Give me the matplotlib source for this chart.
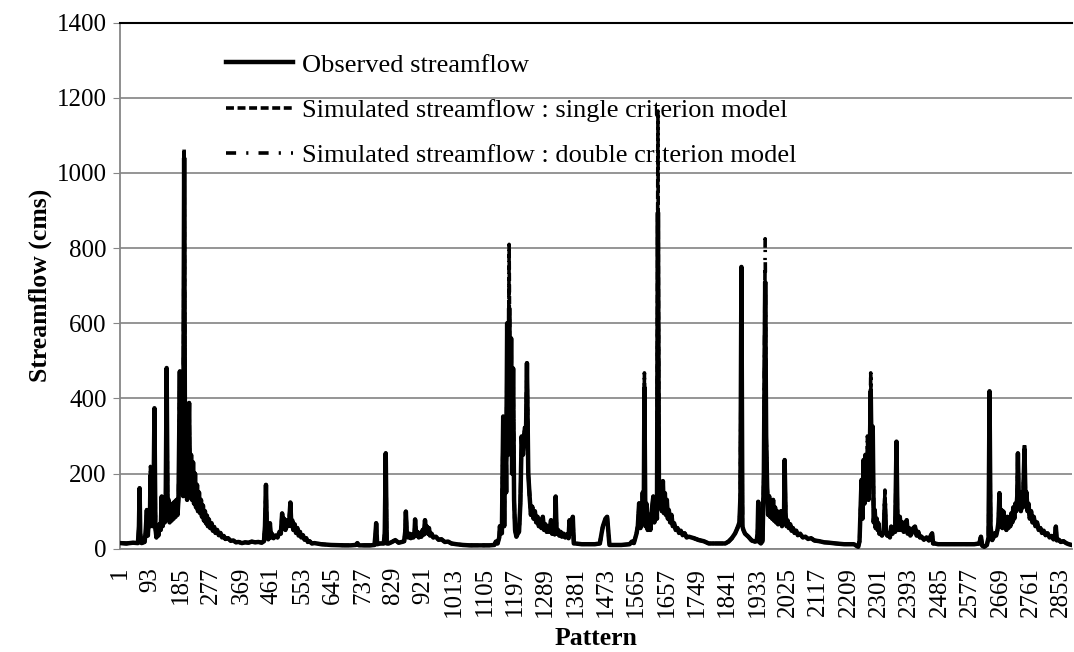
import numpy as np
import matplotlib
matplotlib.use('Agg')
import matplotlib.pyplot as plt

plt.rcParams['font.family'] = ['Liberation Serif', 'DejaVu Serif']

# observed streamflow (pattern, cms), one list per wet season
season_1 = [(1, 15), (20, 14), (40, 16), (55, 15), (58, 60), (60, 161), (62, 40), (66, 15),
            (75, 18), (78, 40), (82, 103), (85, 35), (88, 80), (91, 60), (93, 196), (96, 100),
            (99, 60), (102, 110), (105, 374), (108, 55), (111, 30), (114, 60), (117, 35),
            (120, 65), (124, 50), (127, 139), (130, 60), (133, 90), (136, 70), (139, 110),
            (142, 481), (145, 90), (148, 130), (151, 70), (154, 115), (157, 75), (160, 120),
            (163, 80), (166, 125), (169, 85), (172, 130), (175, 90), (178, 135), (182, 472),
            (185, 160), (188, 260), (192, 140), (195, 1040), (198, 150), (201, 250), (204, 130),
            (207, 260), (210, 388), (213, 140), (216, 250), (219, 130), (222, 230), (225, 120),
            (228, 200), (231, 110), (234, 170), (237, 100), (240, 150), (243, 95), (246, 130),
            (249, 85), (252, 115), (255, 75), (258, 100), (261, 68), (264, 88), (267, 60),
            (270, 78), (274, 55), (278, 68), (282, 48), (286, 58), (290, 42), (295, 50),
            (300, 36), (305, 42), (310, 30), (315, 34), (320, 26), (328, 28), (336, 21),
            (344, 22), (352, 17), (360, 18), (370, 15), (380, 17), (390, 16), (400, 19),
            (410, 17), (420, 18), (430, 16), (437, 20), (440, 60), (443, 170), (446, 40),
            (450, 25), (455, 68), (458, 30), (461, 40), (466, 28), (472, 35), (478, 30),
            (484, 45), (488, 40), (492, 94), (495, 55), (498, 80), (502, 50), (506, 75),
            (510, 60), (514, 80), (517, 123), (520, 60), (523, 75), (526, 50), (530, 65),
            (534, 42), (538, 55), (542, 35), (546, 45), (550, 30), (555, 36), (560, 24),
            (565, 28), (570, 18), (575, 20), (582, 14)]

season_2 = [(590, 15), (610, 12), (640, 10), (680, 9), (700, 9), (715, 10), (720, 15),
            (725, 9), (760, 9), (772, 10), (775, 40), (777, 68), (780, 12), (790, 14),
            (800, 14), (803, 40), (806, 254), (809, 14), (815, 14), (825, 18), (835, 23),
            (845, 16), (855, 18), (862, 20), (865, 45), (867, 99), (870, 40), (874, 30),
            (878, 40), (882, 28), (886, 38), (890, 30), (893, 40), (895, 78), (898, 35),
            (902, 45), (906, 30), (910, 42), (914, 32), (918, 50), (922, 38), (925, 76),
            (928, 45), (931, 59), (934, 40), (937, 55), (940, 35), (945, 40), (950, 30),
            (958, 32), (966, 24), (975, 25), (985, 18), (995, 19), (1005, 14), (1020, 12),
            (1040, 10), (1060, 9), (1080, 9), (1100, 9), (1120, 9), (1135, 10), (1140, 19),
            (1145, 14), (1150, 30)]

season_3 = [(1152, 60), (1155, 45), (1158, 41), (1162, 352), (1165, 60), (1168, 350),
            (1171, 150), (1174, 600), (1177, 250), (1180, 640), (1183, 300), (1186, 560),
            (1189, 200), (1192, 480), (1195, 130), (1198, 50), (1202, 32), (1206, 40),
            (1210, 45), (1214, 120), (1218, 299), (1222, 250), (1227, 310), (1231, 300),
            (1234, 494), (1238, 200), (1242, 140), (1246, 90), (1250, 112), (1254, 80),
            (1258, 100), (1262, 70), (1266, 85), (1270, 60), (1274, 75), (1278, 55),
            (1282, 85), (1286, 50), (1290, 65), (1294, 45), (1298, 60), (1302, 45),
            (1307, 76), (1310, 40), (1314, 55), (1318, 38), (1321, 139), (1324, 40),
            (1328, 50), (1332, 35), (1336, 45), (1340, 32), (1345, 40), (1350, 30),
            (1355, 38), (1360, 28), (1363, 76), (1366, 40), (1370, 60), (1373, 85),
            (1376, 14), (1380, 14), (1400, 12), (1420, 12), (1440, 12), (1455, 14),
            (1460, 40), (1464, 59), (1468, 70), (1472, 80), (1477, 85), (1481, 40),
            (1484, 10), (1490, 10), (1520, 10), (1545, 12), (1552, 19), (1558, 15),
            (1566, 40), (1570, 60), (1574, 121), (1578, 55), (1582, 80), (1585, 150),
            (1588, 90), (1590, 430), (1593, 60), (1596, 120), (1600, 50), (1604, 90),
            (1608, 50), (1612, 100), (1617, 139), (1620, 70), (1624, 120), (1628, 80),
            (1631, 895), (1634, 165), (1637, 110), (1640, 140), (1643, 100), (1646, 180),
            (1649, 95), (1652, 148), (1655, 90), (1658, 130), (1661, 80), (1664, 103),
            (1668, 70), (1672, 90), (1676, 60), (1680, 68), (1685, 50), (1690, 55),
            (1695, 42), (1700, 48), (1706, 36), (1712, 41), (1718, 30)]

season_4 = [(1725, 32), (1740, 28), (1755, 23), (1770, 20), (1785, 14), (1800, 14),
            (1820, 14), (1835, 14), (1845, 19), (1855, 28), (1865, 41), (1872, 55),
            (1878, 70), (1881, 139), (1884, 750), (1887, 60), (1890, 50), (1895, 40),
            (1905, 32), (1915, 22), (1925, 19), (1930, 20), (1933, 40), (1935, 125),
            (1938, 18), (1943, 14), (1948, 20), (1952, 200), (1956, 710), (1959, 300),
            (1962, 165), (1965, 90), (1968, 140), (1971, 85), (1974, 112), (1977, 80),
            (1980, 130), (1983, 75), (1986, 110), (1989, 70), (1992, 100), (1995, 65),
            (1998, 95), (2001, 70), (2004, 100), (2007, 60), (2010, 90), (2013, 80),
            (2015, 236), (2018, 90), (2021, 60), (2024, 75), (2028, 55), (2032, 65),
            (2036, 48), (2040, 55), (2045, 42), (2050, 48), (2055, 36), (2062, 40),
            (2070, 30), (2078, 32), (2086, 26), (2095, 28), (2105, 22), (2120, 20),
            (2135, 17), (2150, 16), (2170, 14), (2195, 12), (2225, 12), (2238, 5),
            (2242, 20), (2245, 100), (2248, 183), (2251, 80), (2254, 236), (2257, 120),
            (2260, 250), (2263, 150), (2266, 245), (2269, 130), (2272, 200), (2276, 420),
            (2279, 200), (2282, 325), (2285, 70), (2288, 103), (2291, 55), (2294, 80),
            (2297, 50)]

season_5 = [(2299, 68), (2302, 40), (2305, 41), (2310, 35), (2315, 45), (2319, 120),
            (2322, 45), (2326, 35), (2330, 41), (2334, 30), (2338, 59), (2342, 40),
            (2346, 55), (2350, 45), (2354, 285), (2357, 80), (2360, 50), (2364, 85),
            (2368, 50), (2372, 70), (2376, 45), (2380, 59), (2385, 76), (2388, 40),
            (2392, 55), (2396, 35), (2400, 41), (2405, 55), (2410, 59), (2415, 35),
            (2420, 45), (2425, 30), (2430, 32), (2437, 24), (2445, 30), (2452, 22),
            (2458, 35), (2462, 41), (2465, 14), (2470, 14), (2480, 12), (2500, 12),
            (2530, 12), (2560, 12), (2590, 12), (2605, 14), (2610, 32), (2614, 8),
            (2620, 5), (2628, 10), (2633, 30), (2636, 419), (2639, 60), (2644, 23),
            (2648, 30), (2652, 41), (2656, 35), (2660, 50), (2663, 70), (2666, 148),
            (2669, 60), (2672, 103), (2675, 55), (2678, 99), (2681, 60), (2684, 75),
            (2687, 50), (2690, 85), (2693, 55), (2696, 80), (2699, 60), (2702, 94),
            (2705, 70), (2708, 110), (2711, 80), (2714, 120), (2717, 100), (2720, 140),
            (2722, 254), (2725, 110), (2728, 140), (2731, 100), (2734, 150), (2737, 110),
            (2740, 200), (2742, 265), (2745, 130), (2748, 150), (2751, 100), (2754, 120),
            (2758, 80), (2762, 100), (2766, 70), (2770, 85), (2775, 60), (2780, 70),
            (2785, 50), (2790, 55), (2795, 42), (2800, 48), (2806, 36), (2812, 41),
            (2818, 30), (2824, 34), (2830, 25), (2834, 30), (2837, 59), (2840, 22),
            (2846, 24), (2852, 18), (2860, 20), (2868, 15), (2876, 12), (2885, 10)]

# peaks where the simulated series depart from the observed one
single_peaks = {93: 219, 195: 1065, 1180: 810, 1227: 330, 1590: 468, 1631: 1165,
                2266: 300, 2276: 468, 2319: 156, 2742: 280}
double_peaks = {195: 1020, 1180: 700, 1227: 320, 1956: 825, 2276: 440, 2319: 150}

n_patterns = 2885
tick_pos = list(range(1, 2854, 92))

pattern, observed = zip(*(season_1 + season_2 + season_3 + season_4 + season_5))
single = [single_peaks.get(p, v) for p, v in zip(pattern, observed)]
double = [double_peaks.get(p, v) for p, v in zip(pattern, observed)]

fig = plt.figure(figsize=(10.74, 6.52), dpi=100)
ax = fig.add_axes([0.1117, 0.1584, 0.8863, 0.8068])

ax.plot(pattern, observed, color='black', lw=3.2, solid_joinstyle='round',
        label='Observed streamflow', zorder=3)
ax.plot(pattern, single, color='black', lw=2.6, dashes=(2.2, 1.0),
        label='Simulated streamflow : single criterion model', zorder=2)
ax.plot(pattern, double, color='black', lw=2.6, dashes=(2.8, 2.8, 0.6, 2.8),
        label='Simulated streamflow : double criterion model', zorder=2)

ax.set_xlim(0.5, n_patterns + 0.5)
ax.set_ylim(0, 1400)
ax.set_yticks(range(0, 1401, 200))
ax.set_xticks(tick_pos)
ax.set_xticklabels([str(t) for t in tick_pos], rotation=90)
ax.tick_params(axis='both', labelsize=18, color='#868686', length=5, pad=4.5)
ax.tick_params(axis='x', length=0, pad=13)
ax.yaxis.grid(True, color='#8c8c8c', lw=1.3)
ax.set_axisbelow(True)

for s in ['left', 'bottom']:
    ax.spines[s].set_color('#868686')
    ax.spines[s].set_linewidth(1.3)
ax.spines['right'].set_visible(False)
ax.spines['top'].set_color('black')
ax.spines['top'].set_linewidth(1.5)

ax.set_ylabel('Streamflow (cms)', fontsize=18.5, fontweight='bold')
ax.yaxis.set_label_coords(-0.071, 0.5)
ax.set_xlabel('Pattern', fontsize=18.5, fontweight='bold', labelpad=7)

leg = ax.legend(loc='upper left', bbox_to_anchor=(213 / 1074, 1 - 40 / 652),
                bbox_transform=fig.transFigure, frameon=False, fontsize=19,
                handlelength=2.54, handletextpad=0.34, labelspacing=0.82, borderpad=0)

fig.savefig('out.png', dpi=100)
